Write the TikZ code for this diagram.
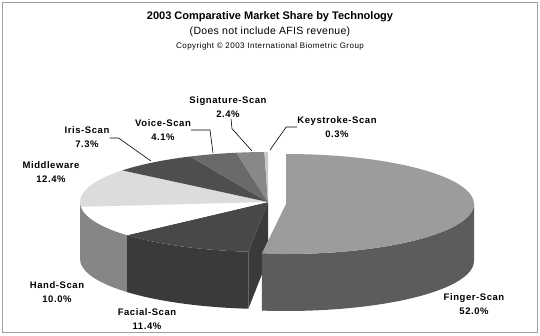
\documentclass[tikz,border=0pt]{standalone}
\usepackage{fontspec}
\setmainfont{Liberation Sans}
\usetikzlibrary{calc}
\definecolor{fingertop}{HTML}{9C9C9C}
\definecolor{fingerwall}{HTML}{5C5C5C}
\definecolor{facialtop}{HTML}{484848}
\definecolor{facialwall}{HTML}{3A3A3A}
\definecolor{handtop}{HTML}{FFFFFF}
\definecolor{handwall}{HTML}{868686}
\definecolor{midtop}{HTML}{DCDCDC}
\definecolor{iristop}{HTML}{4E4E4E}
\definecolor{voicetop}{HTML}{6A6A6A}
\definecolor{sigtop}{HTML}{888888}
\definecolor{keytop}{HTML}{C8C8C8}
\tikzset{
  lbl/.style={font=\bfseries\fontsize{9.5}{14}\selectfont\addfontfeature{LetterSpace=6}, align=center, inner sep=0pt},
  leader/.style={draw=black, line width=0.6pt},
  ttl/.style={font=\bfseries\fontsize{11}{13}\selectfont, inner sep=0pt},
  subttl/.style={font=\fontsize{10.5}{12}\selectfont\addfontfeature{LetterSpace=3}, inner sep=0pt},
  cpy/.style={font=\fontsize{8}{9}\selectfont\addfontfeature{LetterSpace=6}, inner sep=0pt},
}
\newcommand{\RX}{188}
\newcommand{\RY}{50}
\newcommand{\DP}{57}
\newcommand{\sectortop}[4]{%
  \fill[#4] (#1) -- ($(#1)+(#2:\RX pt and \RY pt)$) arc[start angle=#2, end angle=#3, x radius=\RX pt, y radius=\RY pt] -- cycle;}
\newcommand{\sectorwall}[4]{%
  \fill[#4] ($(#1)+(#2:\RX pt and \RY pt)$) arc[start angle=#2, end angle=#3, x radius=\RX pt, y radius=\RY pt] -- ++(0,-\DP pt) arc[start angle=#3, end angle=#2, x radius=\RX pt, y radius=\RY pt] -- cycle;}
\begin{document}
\begin{tikzpicture}[x=1pt,y=1pt]
\useasboundingbox (0,0) rectangle (540,335);
\fill[white] (0,0) rectangle (540,335);
\draw[gray!75, line width=1pt] (2.5,2.5) rectangle (537.5,332.5);

% titles
\node[ttl] (title) at (270,318) {2003 Comparative Market Share by Technology};
\node[subttl] (sub) at (270,303) {(Does not include AFIS revenue)};
\node[cpy] (copy) at (270,289) {Copyright © 2003 International Biometric Group};

% centres
\coordinate (C) at (268,133);
\coordinate (F) at (286,131);

% main pie walls
\sectorwall{C}{180}{185.5}{handwall}
\sectorwall{C}{185.5}{221.5}{handwall}
\sectorwall{C}{221.5}{264}{facialwall}
\fill[facialwall] (C) -- ($(C)+(264:\RX pt and \RY pt)$) -- ++(0,-\DP pt) -- ($(C)+(0,-\DP pt)$) -- cycle;

% main pie tops
\sectortop{C}{221.5}{264}{facialtop}
\sectortop{C}{185.5}{221.5}{handtop}
\sectortop{C}{140.8}{185.5}{midtop}
\sectortop{C}{114.5}{140.8}{iristop}
\sectortop{C}{99.7}{114.5}{voicetop}
\sectortop{C}{91.1}{99.7}{sigtop}
\sectortop{C}{90}{91.1}{keytop}

% finger slice (exploded)
\sectorwall{F}{262.6}{360}{fingerwall}
\sectortop{F}{-97.4}{90}{fingertop}

% anchor points on the pie
\coordinate (pIris) at (151,174);
\coordinate (pVoice) at (213,182);
\coordinate (pSig) at (252,184);
\coordinate (pKey) at (270,185);

% labels
\node[lbl] (sig) at (228,228) {Signature-Scan\\2.4\%};
\node[lbl] (key) at (337,208) {Keystroke-Scan\\0.3\%};
\node[lbl] (voice) at (163,205) {Voice-Scan\\4.1\%};
\node[lbl] (iris) at (87,197.5) {Iris-Scan\\7.3\%};
\node[lbl] (mid) at (51,162.5) {Middleware\\12.4\%};
\node[lbl] (hand) at (57,42.5) {Hand-Scan\\10.0\%};
\node[lbl] (facial) at (147,15.5) {Facial-Scan\\11.4\%};
\node[lbl] (finger) at (474,30.5) {Finger-Scan\\52.0\%};

% leaders
\draw[leader] (iris.east |- 0,197) -- ++(9,0) -- (pIris);
\draw[leader] (voice.east |- 0,205) -- (210,205) -- (pVoice);
\draw[leader] (sig.south) ++(3,-1) -- ++(1,-10) -- (pSig);
\draw[leader] (key.west) -- ++(-11,0) -- (pKey);
\end{tikzpicture}
\end{document}
